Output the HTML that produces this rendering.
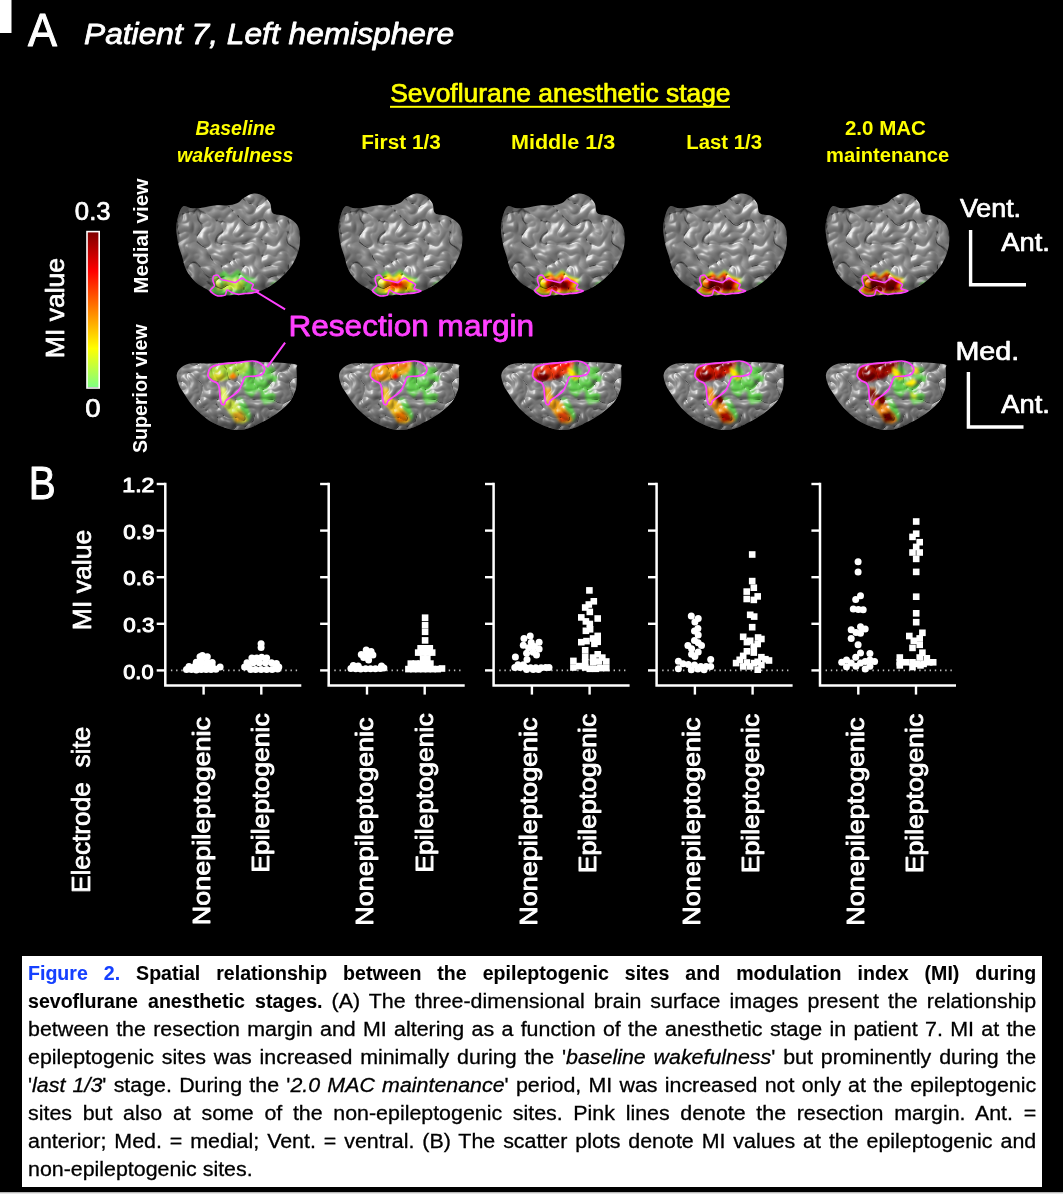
<!DOCTYPE html>
<html lang="en"><head><meta charset="utf-8"><title>Figure 2</title>
<style>
html,body{margin:0;padding:0;background:#000;}
#fig{position:relative;width:1063px;height:1194px;background:#000;overflow:hidden;font-family:"Liberation Sans", sans-serif;}
#fig svg{position:absolute;left:0;top:0;}
svg text{font-family:"Liberation Sans", sans-serif;}

#cap{position:absolute;left:22.2px;top:956px;width:1020.3px;height:231.4px;background:#fff;}
#cap div{position:absolute;left:6.1px;width:943.1px;transform:scaleX(1.069);transform-origin:0 0;height:28px;line-height:28px;font-size:20px;color:#000;-webkit-text-stroke-width:0.3px;white-space:nowrap;text-align:justify;text-align-last:justify;}
#cap b{-webkit-text-stroke-width:0.1px;}
#cap b.f{color:#1540ff;}
#cap div.l1{width:1030.9px;transform:scaleX(0.978);}
#cap b.ib{display:inline-block;transform:scaleX(0.915);transform-origin:0 50%;white-space:pre;word-spacing:4.9px;margin-right:-25.6px;}

</style></head><body>
<div id="fig">
<svg width="1063" height="1194" viewBox="0 0 1063 1194">
<defs>
<linearGradient id="cbar" x1="0" y1="0" x2="0" y2="1">
<stop offset="0" stop-color="#800000"/><stop offset="0.25" stop-color="#ff0000"/><stop offset="0.5" stop-color="#ff8000"/><stop offset="0.75" stop-color="#ffff00"/><stop offset="1" stop-color="#80ff80"/>
</linearGradient>

<filter id="tex" x="-5%" y="-5%" width="110%" height="110%" color-interpolation-filters="sRGB">
 <feTurbulence type="turbulence" baseFrequency="0.045" numOctaves="2" seed="7" result="n"/>
 <feGaussianBlur in="n" stdDeviation="0.6" result="nb"/>
 <feDiffuseLighting in="nb" surfaceScale="3.0" diffuseConstant="1" lighting-color="#989898" result="d"><feDistantLight azimuth="225" elevation="64"/></feDiffuseLighting>
 <feSpecularLighting in="nb" surfaceScale="3.0" specularConstant="0.36" specularExponent="55" lighting-color="#ffffff" result="s"><feDistantLight azimuth="225" elevation="50"/></feSpecularLighting>
 <feComposite in="d" in2="s" operator="arithmetic" k1="0" k2="1" k3="1" k4="0" result="l"/>
 <feColorMatrix in="nb" type="matrix" values="0 0 0 7 0.38  0 0 0 7 0.38  0 0 0 7 0.38  0 0 0 0 1" result="h"/>
 <feBlend in="l" in2="h" mode="multiply" result="m"/>
 <feComposite in="m" in2="SourceAlpha" operator="in"/>
</filter>
<filter id="tex2" x="-5%" y="-5%" width="110%" height="110%" color-interpolation-filters="sRGB">
 <feTurbulence type="turbulence" baseFrequency="0.055" numOctaves="2" seed="11" result="n"/>
 <feGaussianBlur in="n" stdDeviation="0.6" result="nb"/>
 <feDiffuseLighting in="nb" surfaceScale="2.8" diffuseConstant="1" lighting-color="#969696" result="d"><feDistantLight azimuth="235" elevation="64"/></feDiffuseLighting>
 <feSpecularLighting in="nb" surfaceScale="2.8" specularConstant="0.34" specularExponent="55" lighting-color="#ffffff" result="s"><feDistantLight azimuth="235" elevation="50"/></feSpecularLighting>
 <feComposite in="d" in2="s" operator="arithmetic" k1="0" k2="1" k3="1" k4="0" result="l"/>
 <feColorMatrix in="nb" type="matrix" values="0 0 0 8 0.48  0 0 0 8 0.48  0 0 0 8 0.48  0 0 0 0 1" result="h"/>
 <feBlend in="l" in2="h" mode="multiply" result="m"/>
 <feComposite in="m" in2="SourceAlpha" operator="in"/>
</filter>
<filter id="bl1"><feGaussianBlur stdDeviation="1.1"/></filter>
<filter id="bl2"><feGaussianBlur stdDeviation="2.2"/></filter>
<radialGradient id="shM" cx="0.52" cy="0.42" r="0.62"><stop offset="0.6" stop-color="#000" stop-opacity="0"/><stop offset="1" stop-color="#000" stop-opacity="0.4"/></radialGradient>
<radialGradient id="shS" cx="0.5" cy="0.15" r="0.85"><stop offset="0.6" stop-color="#000" stop-opacity="0"/><stop offset="1" stop-color="#000" stop-opacity="0.45"/></radialGradient>
<clipPath id="cM"><path d="M183.3 206.2C181.5 207.1 180.3 209.7 179.1 213.2C177.9 216.7 176.4 222.2 176.3 227.3C176.2 232.5 177.5 239.6 178.4 244.3C179.3 249.0 180.6 251.3 181.9 255.6C183.2 259.8 183.8 265.2 186.2 269.7C188.5 274.1 192.5 279.1 196.0 282.4C199.6 285.7 204.7 287.7 207.3 289.4C209.9 291.1 209.9 291.5 211.6 292.5C213.2 293.6 214.6 295.3 217.2 295.8C219.8 296.2 223.6 295.6 227.1 295.3C230.6 295.1 234.1 294.9 238.4 294.5C242.6 294.1 248.5 293.8 252.5 293.1C256.5 292.4 258.8 291.7 262.4 290.1C265.9 288.6 270.1 286.2 273.6 283.8C277.2 281.3 280.4 278.6 283.5 275.3C286.7 272.0 290.1 268.5 292.7 264.0C295.3 259.5 297.9 253.7 299.0 248.5C300.2 243.3 300.3 237.2 299.8 233.0C299.2 228.7 298.0 225.9 295.5 223.1C293.1 220.3 288.7 217.7 284.9 216.0C281.2 214.4 275.4 215.3 272.9 213.2C270.5 211.1 271.7 206.2 270.1 203.3C268.6 200.5 266.5 197.9 263.8 196.3C261.1 194.6 257.2 193.2 253.9 193.5C250.6 193.7 246.8 196.1 244.0 197.7C241.2 199.3 239.8 202.0 237.0 203.3C234.1 204.6 230.8 205.1 227.1 205.5C223.3 205.8 218.9 205.1 214.4 205.5C209.9 205.9 204.3 207.5 200.3 207.9C196.3 208.3 193.2 208.1 190.4 207.9C187.6 207.6 185.2 205.3 183.3 206.2Z"/></clipPath>
<clipPath id="cS"><path d="M190.4 363.4C185.3 364.1 183.5 365.7 181.2 367.6C178.9 369.6 177.1 372.0 176.7 375.0C176.4 377.9 178.1 382.6 179.1 385.3C180.1 388.0 180.8 388.3 182.6 391.2C184.5 394.1 187.5 399.2 190.4 402.9C193.3 406.6 196.7 410.2 200.3 413.4C203.8 416.5 207.6 419.7 211.6 422.0C215.5 424.3 220.1 425.9 223.8 427.2C227.6 428.5 230.7 429.5 234.1 429.9C237.6 430.2 241.1 430.1 244.4 429.4C247.7 428.8 250.9 427.4 253.9 426.2C256.9 425.0 258.4 424.2 262.2 422.1C266.1 420.0 272.5 416.5 276.9 413.4C281.3 410.2 285.9 406.3 288.7 403.1C291.6 399.8 292.8 396.7 294.1 393.7C295.4 390.8 296.1 389.4 296.5 385.3C296.9 381.2 296.9 372.6 296.5 369.0C296.1 365.5 299.6 365.3 294.1 364.1C288.7 362.9 273.5 362.2 263.8 361.9C254.0 361.5 244.3 361.9 235.6 362.1C226.9 362.4 219.1 363.2 211.6 363.4C204.0 363.6 195.5 362.7 190.4 363.4Z"/></clipPath>
<g id="brM"><path d="M183.3 206.2C181.5 207.1 180.3 209.7 179.1 213.2C177.9 216.7 176.4 222.2 176.3 227.3C176.2 232.5 177.5 239.6 178.4 244.3C179.3 249.0 180.6 251.3 181.9 255.6C183.2 259.8 183.8 265.2 186.2 269.7C188.5 274.1 192.5 279.1 196.0 282.4C199.6 285.7 204.7 287.7 207.3 289.4C209.9 291.1 209.9 291.5 211.6 292.5C213.2 293.6 214.6 295.3 217.2 295.8C219.8 296.2 223.6 295.6 227.1 295.3C230.6 295.1 234.1 294.9 238.4 294.5C242.6 294.1 248.5 293.8 252.5 293.1C256.5 292.4 258.8 291.7 262.4 290.1C265.9 288.6 270.1 286.2 273.6 283.8C277.2 281.3 280.4 278.6 283.5 275.3C286.7 272.0 290.1 268.5 292.7 264.0C295.3 259.5 297.9 253.7 299.0 248.5C300.2 243.3 300.3 237.2 299.8 233.0C299.2 228.7 298.0 225.9 295.5 223.1C293.1 220.3 288.7 217.7 284.9 216.0C281.2 214.4 275.4 215.3 272.9 213.2C270.5 211.1 271.7 206.2 270.1 203.3C268.6 200.5 266.5 197.9 263.8 196.3C261.1 194.6 257.2 193.2 253.9 193.5C250.6 193.7 246.8 196.1 244.0 197.7C241.2 199.3 239.8 202.0 237.0 203.3C234.1 204.6 230.8 205.1 227.1 205.5C223.3 205.8 218.9 205.1 214.4 205.5C209.9 205.9 204.3 207.5 200.3 207.9C196.3 208.3 193.2 208.1 190.4 207.9C187.6 207.6 185.2 205.3 183.3 206.2Z" fill="#888" filter="url(#tex)"/><path d="M183.3 206.2C181.5 207.1 180.3 209.7 179.1 213.2C177.9 216.7 176.4 222.2 176.3 227.3C176.2 232.5 177.5 239.6 178.4 244.3C179.3 249.0 180.6 251.3 181.9 255.6C183.2 259.8 183.8 265.2 186.2 269.7C188.5 274.1 192.5 279.1 196.0 282.4C199.6 285.7 204.7 287.7 207.3 289.4C209.9 291.1 209.9 291.5 211.6 292.5C213.2 293.6 214.6 295.3 217.2 295.8C219.8 296.2 223.6 295.6 227.1 295.3C230.6 295.1 234.1 294.9 238.4 294.5C242.6 294.1 248.5 293.8 252.5 293.1C256.5 292.4 258.8 291.7 262.4 290.1C265.9 288.6 270.1 286.2 273.6 283.8C277.2 281.3 280.4 278.6 283.5 275.3C286.7 272.0 290.1 268.5 292.7 264.0C295.3 259.5 297.9 253.7 299.0 248.5C300.2 243.3 300.3 237.2 299.8 233.0C299.2 228.7 298.0 225.9 295.5 223.1C293.1 220.3 288.7 217.7 284.9 216.0C281.2 214.4 275.4 215.3 272.9 213.2C270.5 211.1 271.7 206.2 270.1 203.3C268.6 200.5 266.5 197.9 263.8 196.3C261.1 194.6 257.2 193.2 253.9 193.5C250.6 193.7 246.8 196.1 244.0 197.7C241.2 199.3 239.8 202.0 237.0 203.3C234.1 204.6 230.8 205.1 227.1 205.5C223.3 205.8 218.9 205.1 214.4 205.5C209.9 205.9 204.3 207.5 200.3 207.9C196.3 208.3 193.2 208.1 190.4 207.9C187.6 207.6 185.2 205.3 183.3 206.2Z" fill="url(#shM)"/></g>
<g id="brS"><path d="M190.4 363.4C185.3 364.1 183.5 365.7 181.2 367.6C178.9 369.6 177.1 372.0 176.7 375.0C176.4 377.9 178.1 382.6 179.1 385.3C180.1 388.0 180.8 388.3 182.6 391.2C184.5 394.1 187.5 399.2 190.4 402.9C193.3 406.6 196.7 410.2 200.3 413.4C203.8 416.5 207.6 419.7 211.6 422.0C215.5 424.3 220.1 425.9 223.8 427.2C227.6 428.5 230.7 429.5 234.1 429.9C237.6 430.2 241.1 430.1 244.4 429.4C247.7 428.8 250.9 427.4 253.9 426.2C256.9 425.0 258.4 424.2 262.2 422.1C266.1 420.0 272.5 416.5 276.9 413.4C281.3 410.2 285.9 406.3 288.7 403.1C291.6 399.8 292.8 396.7 294.1 393.7C295.4 390.8 296.1 389.4 296.5 385.3C296.9 381.2 296.9 372.6 296.5 369.0C296.1 365.5 299.6 365.3 294.1 364.1C288.7 362.9 273.5 362.2 263.8 361.9C254.0 361.5 244.3 361.9 235.6 362.1C226.9 362.4 219.1 363.2 211.6 363.4C204.0 363.6 195.5 362.7 190.4 363.4Z" fill="#888" filter="url(#tex2)"/><path d="M190.4 363.4C185.3 364.1 183.5 365.7 181.2 367.6C178.9 369.6 177.1 372.0 176.7 375.0C176.4 377.9 178.1 382.6 179.1 385.3C180.1 388.0 180.8 388.3 182.6 391.2C184.5 394.1 187.5 399.2 190.4 402.9C193.3 406.6 196.7 410.2 200.3 413.4C203.8 416.5 207.6 419.7 211.6 422.0C215.5 424.3 220.1 425.9 223.8 427.2C227.6 428.5 230.7 429.5 234.1 429.9C237.6 430.2 241.1 430.1 244.4 429.4C247.7 428.8 250.9 427.4 253.9 426.2C256.9 425.0 258.4 424.2 262.2 422.1C266.1 420.0 272.5 416.5 276.9 413.4C281.3 410.2 285.9 406.3 288.7 403.1C291.6 399.8 292.8 396.7 294.1 393.7C295.4 390.8 296.1 389.4 296.5 385.3C296.9 381.2 296.9 372.6 296.5 369.0C296.1 365.5 299.6 365.3 294.1 364.1C288.7 362.9 273.5 362.2 263.8 361.9C254.0 361.5 244.3 361.9 235.6 362.1C226.9 362.4 219.1 363.2 211.6 363.4C204.0 363.6 195.5 362.7 190.4 363.4Z" fill="url(#shS)"/></g>
</defs>
<rect x="0" y="0" width="1063" height="1194" fill="#000"/>
<rect x="0" y="0" width="11.5" height="33" fill="#fff"/>
<rect x="0" y="1192.2" width="1063" height="1.8" fill="#e4e4e4"/>
<g transform="translate(0.0,0)">
<use href="#brM"/>
<use href="#brS"/>
<g clip-path="url(#cM)" style="mix-blend-mode:overlay"><g filter="url(#bl1)">
<path d="M213.0 276.4L219.8 274.0L224.3 270.6L229.9 276.0L237.8 269.5L244.6 275.3L250.3 277.4L256.1 278.5L253.9 284.4L251.6 287.7L259.1 290.7L246.9 293.6L236.7 294.2L225.4 294.7L214.1 294.7L209.4 291.4L212.8 285.5Z" fill="#62cc50" opacity="1"/>
<path d="M269.5 284.6L276.2 280.7L277.6 281.9L272.3 285.0Z" fill="#62cc50"/>
<path d="M223.2 280.9L226.6 279.6L228.8 277.9L231.6 280.6L235.6 277.4L239.0 280.3L241.8 281.3L244.7 281.9L243.6 284.8L242.5 286.5L246.2 288.0L240.1 289.4L235.0 289.7L229.4 290.0L223.7 290.0L221.4 288.3L223.1 285.4Z" fill="#c4e83c" opacity="1"/>
<path d="M214.1 278.1L218.1 277.4L221.5 288.9L217.5 290.9Z" fill="#e4f060"/>
</g></g>
<g clip-path="url(#cS)" style="mix-blend-mode:overlay"><g filter="url(#bl1)">
<path d="M235.6 368.3L249.7 364.1L257.4 371.2L255.3 378.9L244.0 377.5L238.4 374.0Z" fill="#62cc50" opacity="1"/>
<path d="M241.9 377.5L255.3 376.1L263.8 377.5L270.8 385.3L266.6 392.3L256.7 391.6L251.8 398.0L245.1 392.3Z" fill="#62cc50" opacity="1"/>
<path d="M263.1 367.6L270.1 366.7L275.3 368.3L272.8 375.1L278.4 376.2L275.3 383.2L268.7 380.3L263.8 376.8Z" fill="#62cc50" opacity="1"/>
<path d="M261.0 390.2L270.1 392.0L275.6 394.0L274.8 401.4L264.1 404.7L260.4 398.3Z" fill="#62cc50" opacity="1"/>
<path d="M236.3 397.3L241.9 398.0L247.5 406.4L251.4 416.3L248.5 422.5L244.0 416.9L239.5 406.7Z" fill="#62cc50" opacity="1"/>
<path d="M211.6 366.9L221.4 364.1L235.6 362.7L249.7 361.3L248.3 368.3L244.0 374.7L241.2 374.0L232.7 378.2L224.3 380.3L214.4 381.0L208.0 376.1L208.7 371.2Z" fill="#a8d83c" opacity="1"/>
<path d="M220.3 387.0L226.0 387.8L227.8 396.6L231.3 399.4L237.7 402.2L240.5 409.3L245.4 414.2L248.3 420.6L243.3 423.7L235.6 423.1L231.0 415.6L226.8 409.3L222.6 404.3L220.3 396.6Z" fill="#c8e040" opacity="1"/>
<path d="M210.9 377.5L217.5 369.5L225.0 375.7L223.1 380.8L214.7 381.0Z" fill="#d8d828" opacity="1"/>
<path d="M228.5 377.1L233.4 371.9L237.0 377.1L232.7 379.6Z" fill="#ff8000" opacity="1"/>
<path d="M232.4 413.2L241.2 411.8L245.7 420.6L235.6 422.8Z" fill="#f0b020" opacity="1"/>
<path d="M221.2 387.8L225.7 388.4L227.1 397.3L222.9 403.3L220.6 396.6Z" fill="#e4f060" opacity="1"/>
</g></g>
<path d="M213.7 276.0C214.3 275.4 217.0 274.9 217.9 275.3C218.8 275.7 220.2 278.9 221.4 279.5C222.7 280.2 226.9 280.6 228.5 281.0C230.1 281.3 234.0 282.7 235.6 282.4C237.1 282.0 240.6 278.3 241.9 278.1C243.2 278.0 245.5 280.2 246.8 281.0C248.2 281.7 252.6 283.6 253.2 284.5C253.8 285.4 251.1 288.0 251.8 288.7C252.4 289.5 258.8 290.3 258.8 290.8C258.9 291.3 254.2 292.6 252.5 292.9C250.8 293.3 245.7 293.5 244.0 293.6C242.4 293.8 239.9 294.5 238.4 294.4C236.9 294.2 232.6 292.7 231.3 292.2C230.0 291.7 227.8 289.8 227.1 290.1C226.3 290.5 226.1 294.4 225.0 295.1C223.8 295.7 218.9 296.3 217.2 295.8C215.5 295.3 210.5 292.0 210.2 290.8C209.8 289.7 214.1 287.0 214.4 285.9C214.7 284.7 213.1 282.1 213.0 281.0C212.9 279.8 213.1 276.7 213.7 276.0Z" fill="none" stroke="#ff40ff" stroke-width="1.6" stroke-linejoin="round"/>
<path d="M211.6 366.9C213.7 365.8 217.4 364.8 221.4 364.1C225.4 363.4 230.4 363.2 235.6 362.7C240.7 362.2 248.5 361.0 252.5 361.0C256.5 361.0 257.5 361.5 259.5 362.7C261.5 363.9 264.0 366.5 264.5 368.3C264.9 370.2 263.9 372.7 262.4 374.0C260.8 375.3 258.1 375.6 255.3 376.1C252.5 376.6 247.5 375.8 245.4 376.8C243.3 377.9 243.8 380.1 242.6 382.5C241.4 384.8 240.3 388.6 238.4 390.9C236.5 393.3 233.4 394.9 231.3 396.6C229.2 398.2 226.9 399.5 225.7 400.8C224.5 402.1 225.0 403.9 224.3 404.3C223.6 404.8 222.1 404.9 221.4 403.6C220.7 402.3 220.4 399.2 220.0 396.6C219.7 394.0 219.8 390.3 219.3 388.1C218.9 385.9 218.5 384.5 217.2 383.2C215.9 381.9 213.1 381.5 211.6 380.3C210.0 379.2 208.5 377.6 208.0 376.1C207.6 374.6 208.2 372.7 208.7 371.2C209.3 369.6 209.4 368.1 211.6 366.9Z" fill="none" stroke="#ff40ff" stroke-width="1.7" stroke-linejoin="round"/>
</g>
<g transform="translate(162.3,0)">
<use href="#brM"/>
<use href="#brS"/>
<g clip-path="url(#cM)" style="mix-blend-mode:overlay"><g filter="url(#bl1)">
<path d="M213.0 276.4L219.8 274.0L224.3 270.6L229.9 276.0L237.8 269.5L244.6 275.3L250.3 277.4L256.1 278.5L253.9 284.4L251.6 287.7L259.1 290.7L246.9 293.6L236.7 294.2L225.4 294.7L214.1 294.7L209.4 291.4L212.8 285.5Z" fill="#62cc50" opacity="1"/>
<path d="M269.5 284.6L276.2 280.7L277.6 281.9L272.3 285.0Z" fill="#62cc50"/>
<path d="M217.4 278.1L222.8 276.1L226.4 273.4L231.0 277.7L237.3 272.5L242.7 277.2L247.2 278.8L251.9 279.7L250.1 284.4L248.3 287.1L254.3 289.5L244.5 291.8L236.4 292.3L227.3 292.7L218.3 292.7L214.5 290.0L217.2 285.3Z" fill="#fff000" opacity="1"/>
<path d="M222.9 280.1L226.6 278.7L229.1 276.9L232.2 279.9L236.6 276.3L240.3 279.5L243.4 280.6L246.6 281.2L245.4 284.5L244.1 286.3L248.2 287.9L241.5 289.5L236.0 289.9L229.7 290.2L223.5 290.2L220.9 288.3L222.8 285.1Z" fill="#ff8000" opacity="1"/>
<path d="M228.4 282.1L230.4 281.4L231.8 280.4L233.5 282.0L235.9 280.0L237.9 281.8L239.6 282.4L241.4 282.7L240.7 284.5L240.0 285.5L242.2 286.4L238.6 287.3L235.5 287.5L232.1 287.6L228.8 287.6L227.3 286.6L228.3 284.8Z" fill="#ff0800" opacity="1"/>
<path d="M232.8 283.8L233.5 283.5L233.9 283.2L234.5 283.7L235.3 283.1L236.0 283.7L236.5 283.9L237.1 284.0L236.9 284.6L236.7 284.9L237.4 285.2L236.2 285.5L235.2 285.5L234.1 285.6L232.9 285.6L232.5 285.3L232.8 284.7Z" fill="#780000" opacity="1"/>
<path d="M214.1 278.1L218.1 277.4L221.5 288.9L217.5 290.9Z" fill="#e4f060"/>
</g></g>
<g clip-path="url(#cS)" style="mix-blend-mode:overlay"><g filter="url(#bl1)">
<path d="M235.6 368.3L249.7 364.1L257.4 371.2L255.3 378.9L244.0 377.5L238.4 374.0Z" fill="#62cc50" opacity="1"/>
<path d="M241.9 377.5L255.3 376.1L263.8 377.5L270.8 385.3L266.6 392.3L256.7 391.6L251.8 398.0L245.1 392.3Z" fill="#62cc50" opacity="1"/>
<path d="M263.1 367.6L270.1 366.7L275.3 368.3L272.8 375.1L278.4 376.2L275.3 383.2L268.7 380.3L263.8 376.8Z" fill="#62cc50" opacity="1"/>
<path d="M261.0 390.2L270.1 392.0L275.6 394.0L274.8 401.4L264.1 404.7L260.4 398.3Z" fill="#62cc50" opacity="1"/>
<path d="M236.3 397.3L241.9 398.0L247.5 406.4L251.4 416.3L248.5 422.5L244.0 416.9L239.5 406.7Z" fill="#62cc50" opacity="1"/>
<path d="M211.6 366.9L221.4 364.1L235.6 362.7L249.7 361.3L248.3 368.3L244.0 374.7L241.2 374.0L232.7 378.2L224.3 380.3L214.4 381.0L208.0 376.1L208.7 371.2Z" fill="#f0a818" opacity="1"/>
<path d="M220.3 387.0L226.0 387.8L227.8 396.6L231.3 399.4L237.7 402.2L240.5 409.3L245.4 414.2L248.3 420.6L243.3 423.7L235.6 423.1L231.0 415.6L226.8 409.3L222.6 404.3L220.3 396.6Z" fill="#f0c020" opacity="1"/>
<path d="M210.9 377.5L217.5 369.5L225.0 375.7L223.1 380.8L214.7 381.0Z" fill="#f09010" opacity="1"/>
<path d="M220.7 365.2L231.3 363.5L248.3 362.4L244.7 368.1L238.4 366.7L232.7 369.8L225.7 367.2Z" fill="#f07010" opacity="1"/>
<path d="M228.5 377.1L233.4 371.9L237.0 377.1L232.7 379.6Z" fill="#ff0800" opacity="1"/>
<path d="M232.4 413.2L241.2 411.8L245.7 420.6L235.6 422.8Z" fill="#ff8000" opacity="1"/>
</g></g>
<path d="M213.7 276.0C214.3 275.4 217.0 274.9 217.9 275.3C218.8 275.7 220.2 278.9 221.4 279.5C222.7 280.2 226.9 280.6 228.5 281.0C230.1 281.3 234.0 282.7 235.6 282.4C237.1 282.0 240.6 278.3 241.9 278.1C243.2 278.0 245.5 280.2 246.8 281.0C248.2 281.7 252.6 283.6 253.2 284.5C253.8 285.4 251.1 288.0 251.8 288.7C252.4 289.5 258.8 290.3 258.8 290.8C258.9 291.3 254.2 292.6 252.5 292.9C250.8 293.3 245.7 293.5 244.0 293.6C242.4 293.8 239.9 294.5 238.4 294.4C236.9 294.2 232.6 292.7 231.3 292.2C230.0 291.7 227.8 289.8 227.1 290.1C226.3 290.5 226.1 294.4 225.0 295.1C223.8 295.7 218.9 296.3 217.2 295.8C215.5 295.3 210.5 292.0 210.2 290.8C209.8 289.7 214.1 287.0 214.4 285.9C214.7 284.7 213.1 282.1 213.0 281.0C212.9 279.8 213.1 276.7 213.7 276.0Z" fill="none" stroke="#ff40ff" stroke-width="1.6" stroke-linejoin="round"/>
<path d="M211.6 366.9C213.7 365.8 217.4 364.8 221.4 364.1C225.4 363.4 230.4 363.2 235.6 362.7C240.7 362.2 248.5 361.0 252.5 361.0C256.5 361.0 257.5 361.5 259.5 362.7C261.5 363.9 264.0 366.5 264.5 368.3C264.9 370.2 263.9 372.7 262.4 374.0C260.8 375.3 258.1 375.6 255.3 376.1C252.5 376.6 247.5 375.8 245.4 376.8C243.3 377.9 243.8 380.1 242.6 382.5C241.4 384.8 240.3 388.6 238.4 390.9C236.5 393.3 233.4 394.9 231.3 396.6C229.2 398.2 226.9 399.5 225.7 400.8C224.5 402.1 225.0 403.9 224.3 404.3C223.6 404.8 222.1 404.9 221.4 403.6C220.7 402.3 220.4 399.2 220.0 396.6C219.7 394.0 219.8 390.3 219.3 388.1C218.9 385.9 218.5 384.5 217.2 383.2C215.9 381.9 213.1 381.5 211.6 380.3C210.0 379.2 208.5 377.6 208.0 376.1C207.6 374.6 208.2 372.7 208.7 371.2C209.3 369.6 209.4 368.1 211.6 366.9Z" fill="none" stroke="#ff40ff" stroke-width="1.7" stroke-linejoin="round"/>
</g>
<g transform="translate(324.6,0)">
<use href="#brM"/>
<use href="#brS"/>
<g clip-path="url(#cM)" style="mix-blend-mode:overlay"><g filter="url(#bl1)">
<path d="M213.0 276.4L219.8 274.0L224.3 270.6L229.9 276.0L237.8 269.5L244.6 275.3L250.3 277.4L256.1 278.5L253.9 284.4L251.6 287.7L259.1 290.7L246.9 293.6L236.7 294.2L225.4 294.7L214.1 294.7L209.4 291.4L212.8 285.5Z" fill="#62cc50" opacity="1"/>
<path d="M269.5 284.6L276.2 280.7L277.6 281.9L272.3 285.0Z" fill="#62cc50"/>
<path d="M215.2 277.3L221.3 275.0L225.4 272.0L230.4 276.9L237.6 271.0L243.7 276.2L248.7 278.1L254.0 279.1L252.0 284.4L250.0 287.4L256.7 290.1L245.7 292.7L236.5 293.2L226.4 293.7L216.2 293.7L212.0 290.7L215.0 285.4Z" fill="#fff000" opacity="1"/>
<path d="M217.8 278.2L223.1 276.3L226.7 273.7L231.1 277.9L237.2 272.8L242.5 277.4L246.9 278.9L251.5 279.8L249.7 284.4L248.0 287.0L253.8 289.3L244.3 291.6L236.3 292.1L227.5 292.5L218.7 292.5L215.0 289.9L217.7 285.3Z" fill="#ff8000" opacity="1"/>
<path d="M221.4 279.5L225.6 278.0L228.4 275.9L231.9 279.3L236.8 275.2L241.0 278.8L244.5 280.1L248.1 280.8L246.7 284.4L245.3 286.5L249.9 288.4L242.4 290.2L236.1 290.5L229.1 290.9L222.1 290.9L219.1 288.8L221.2 285.1Z" fill="#ff0800" opacity="1"/>
<path d="M225.8 281.2L228.6 280.1L230.5 278.7L232.9 281.0L236.2 278.2L239.0 280.7L241.4 281.5L243.9 282.0L242.9 284.5L242.0 285.9L245.1 287.1L240.0 288.4L235.7 288.6L231.0 288.8L226.2 288.8L224.3 287.4L225.7 285.0Z" fill="#780000" opacity="1"/>
<path d="M214.1 278.1L218.1 277.4L221.5 288.9L217.5 290.9Z" fill="#fff000"/>
</g></g>
<g clip-path="url(#cS)" style="mix-blend-mode:overlay"><g filter="url(#bl1)">
<path d="M235.6 368.3L249.7 364.1L257.4 371.2L255.3 378.9L244.0 377.5L238.4 374.0Z" fill="#62cc50" opacity="1"/>
<path d="M241.9 377.5L255.3 376.1L263.8 377.5L270.8 385.3L266.6 392.3L256.7 391.6L251.8 398.0L245.1 392.3Z" fill="#62cc50" opacity="1"/>
<path d="M263.1 367.6L270.1 366.7L275.3 368.3L272.8 375.1L278.4 376.2L275.3 383.2L268.7 380.3L263.8 376.8Z" fill="#62cc50" opacity="1"/>
<path d="M261.0 390.2L270.1 392.0L275.6 394.0L274.8 401.4L264.1 404.7L260.4 398.3Z" fill="#62cc50" opacity="1"/>
<path d="M236.3 397.3L241.9 398.0L247.5 406.4L251.4 416.3L248.5 422.5L244.0 416.9L239.5 406.7Z" fill="#62cc50" opacity="1"/>
<path d="M211.6 366.9L221.4 364.1L235.6 362.7L249.7 361.3L248.3 368.3L244.0 374.7L241.2 374.0L232.7 378.2L224.3 380.3L214.4 381.0L208.0 376.1L208.7 371.2Z" fill="#f03810" opacity="1"/>
<path d="M220.3 387.0L226.0 387.8L227.8 396.6L231.3 399.4L237.7 402.2L240.5 409.3L245.4 414.2L248.3 420.6L243.3 423.7L235.6 423.1L231.0 415.6L226.8 409.3L222.6 404.3L220.3 396.6Z" fill="#f0a018" opacity="1"/>
<path d="M210.9 377.5L217.5 369.5L225.0 375.7L223.1 380.8L214.7 381.0Z" fill="#780000" opacity="1"/>
<path d="M220.7 365.2L231.3 363.5L248.3 362.4L244.7 368.1L238.4 366.7L232.7 369.8L225.7 367.2Z" fill="#ff0800" opacity="1"/>
<path d="M228.5 377.1L233.4 371.9L237.0 377.1L232.7 379.6Z" fill="#780000" opacity="1"/>
<path d="M232.4 413.2L241.2 411.8L245.7 420.6L235.6 422.8Z" fill="#f04810" opacity="1"/>
<path d="M243.3 366.9L249.7 371.2L255.3 378.2L249.7 380.3L244.0 374.0Z" fill="#fff000" opacity="1"/>
</g></g>
<path d="M213.7 276.0C214.3 275.4 217.0 274.9 217.9 275.3C218.8 275.7 220.2 278.9 221.4 279.5C222.7 280.2 226.9 280.6 228.5 281.0C230.1 281.3 234.0 282.7 235.6 282.4C237.1 282.0 240.6 278.3 241.9 278.1C243.2 278.0 245.5 280.2 246.8 281.0C248.2 281.7 252.6 283.6 253.2 284.5C253.8 285.4 251.1 288.0 251.8 288.7C252.4 289.5 258.8 290.3 258.8 290.8C258.9 291.3 254.2 292.6 252.5 292.9C250.8 293.3 245.7 293.5 244.0 293.6C242.4 293.8 239.9 294.5 238.4 294.4C236.9 294.2 232.6 292.7 231.3 292.2C230.0 291.7 227.8 289.8 227.1 290.1C226.3 290.5 226.1 294.4 225.0 295.1C223.8 295.7 218.9 296.3 217.2 295.8C215.5 295.3 210.5 292.0 210.2 290.8C209.8 289.7 214.1 287.0 214.4 285.9C214.7 284.7 213.1 282.1 213.0 281.0C212.9 279.8 213.1 276.7 213.7 276.0Z" fill="none" stroke="#ff40ff" stroke-width="1.6" stroke-linejoin="round"/>
<path d="M211.6 366.9C213.7 365.8 217.4 364.8 221.4 364.1C225.4 363.4 230.4 363.2 235.6 362.7C240.7 362.2 248.5 361.0 252.5 361.0C256.5 361.0 257.5 361.5 259.5 362.7C261.5 363.9 264.0 366.5 264.5 368.3C264.9 370.2 263.9 372.7 262.4 374.0C260.8 375.3 258.1 375.6 255.3 376.1C252.5 376.6 247.5 375.8 245.4 376.8C243.3 377.9 243.8 380.1 242.6 382.5C241.4 384.8 240.3 388.6 238.4 390.9C236.5 393.3 233.4 394.9 231.3 396.6C229.2 398.2 226.9 399.5 225.7 400.8C224.5 402.1 225.0 403.9 224.3 404.3C223.6 404.8 222.1 404.9 221.4 403.6C220.7 402.3 220.4 399.2 220.0 396.6C219.7 394.0 219.8 390.3 219.3 388.1C218.9 385.9 218.5 384.5 217.2 383.2C215.9 381.9 213.1 381.5 211.6 380.3C210.0 379.2 208.5 377.6 208.0 376.1C207.6 374.6 208.2 372.7 208.7 371.2C209.3 369.6 209.4 368.1 211.6 366.9Z" fill="none" stroke="#ff40ff" stroke-width="1.7" stroke-linejoin="round"/>
</g>
<g transform="translate(486.9,0)">
<use href="#brM"/>
<use href="#brS"/>
<g clip-path="url(#cM)" style="mix-blend-mode:overlay"><g filter="url(#bl1)">
<path d="M213.0 276.4L219.8 274.0L224.3 270.6L229.9 276.0L237.8 269.5L244.6 275.3L250.3 277.4L256.1 278.5L253.9 284.4L251.6 287.7L259.1 290.7L246.9 293.6L236.7 294.2L225.4 294.7L214.1 294.7L209.4 291.4L212.8 285.5Z" fill="#62cc50" opacity="1"/>
<path d="M269.5 284.6L276.2 280.7L277.6 281.9L272.3 285.0Z" fill="#62cc50"/>
<path d="M214.8 277.1L221.0 274.8L225.2 271.7L230.3 276.7L237.6 270.7L243.8 276.1L249.0 277.9L254.4 279.0L252.4 284.4L250.3 287.5L257.1 290.2L245.9 292.9L236.6 293.4L226.2 293.9L215.8 293.9L211.4 290.8L214.6 285.4Z" fill="#fff000" opacity="1"/>
<path d="M216.7 277.8L222.4 275.8L226.1 273.0L230.8 277.5L237.4 272.0L243.0 276.9L247.7 278.6L252.5 279.5L250.7 284.4L248.8 287.2L255.0 289.6L244.9 292.1L236.4 292.5L227.1 293.0L217.7 293.0L213.7 290.2L216.6 285.3Z" fill="#ff8000" opacity="1"/>
<path d="M218.9 278.6L223.9 276.8L227.2 274.4L231.3 278.3L237.1 273.5L242.0 277.8L246.1 279.3L250.4 280.1L248.8 284.4L247.1 286.9L252.6 289.0L243.7 291.2L236.3 291.6L228.0 292.0L219.8 292.0L216.3 289.5L218.8 285.2Z" fill="#ff0800" opacity="1"/>
<path d="M222.3 279.9L226.2 278.4L228.8 276.5L232.1 279.6L236.7 275.8L240.6 279.2L243.9 280.4L247.3 281.0L246.0 284.4L244.6 286.4L249.0 288.1L241.9 289.8L236.0 290.1L229.5 290.5L222.9 290.5L220.2 288.5L222.1 285.1Z" fill="#780000" opacity="1"/>
<path d="M214.1 278.1L218.1 277.4L221.5 288.9L217.5 290.9Z" fill="#ff8000"/>
</g></g>
<g clip-path="url(#cS)" style="mix-blend-mode:overlay"><g filter="url(#bl1)">
<path d="M235.6 368.3L249.7 364.1L257.4 371.2L255.3 378.9L244.0 377.5L238.4 374.0Z" fill="#62cc50" opacity="1"/>
<path d="M241.9 377.5L255.3 376.1L263.8 377.5L270.8 385.3L266.6 392.3L256.7 391.6L251.8 398.0L245.1 392.3Z" fill="#62cc50" opacity="1"/>
<path d="M263.1 367.6L270.1 366.7L275.3 368.3L272.8 375.1L278.4 376.2L275.3 383.2L268.7 380.3L263.8 376.8Z" fill="#62cc50" opacity="1"/>
<path d="M261.0 390.2L270.1 392.0L275.6 394.0L274.8 401.4L264.1 404.7L260.4 398.3Z" fill="#62cc50" opacity="1"/>
<path d="M236.3 397.3L241.9 398.0L247.5 406.4L251.4 416.3L248.5 422.5L244.0 416.9L239.5 406.7Z" fill="#62cc50" opacity="1"/>
<path d="M211.6 366.9L221.4 364.1L235.6 362.7L249.7 361.3L248.3 368.3L244.0 374.7L241.2 374.0L232.7 378.2L224.3 380.3L214.4 381.0L208.0 376.1L208.7 371.2Z" fill="#d01800" opacity="1"/>
<path d="M220.3 387.0L226.0 387.8L227.8 396.6L231.3 399.4L237.7 402.2L240.5 409.3L245.4 414.2L248.3 420.6L243.3 423.7L235.6 423.1L231.0 415.6L226.8 409.3L222.6 404.3L220.3 396.6Z" fill="#f09018" opacity="1"/>
<path d="M210.2 377.7L217.4 368.8L225.7 375.6L223.7 381.2L214.3 381.5Z" fill="#780000" opacity="1"/>
<path d="M220.7 365.2L231.3 363.5L248.3 362.4L244.7 368.1L238.4 366.7L232.7 369.8L225.7 367.2Z" fill="#780000" opacity="1"/>
<path d="M228.5 377.1L233.4 371.9L237.0 377.1L232.7 379.6Z" fill="#780000" opacity="1"/>
<path d="M232.4 413.2L241.2 411.8L245.7 420.6L235.6 422.8Z" fill="#c01000" opacity="1"/>
<path d="M227.1 395.2L235.6 396.6L238.4 403.6L231.3 404.3Z" fill="#780000" opacity="1"/>
<path d="M243.3 366.9L249.7 371.2L255.3 378.2L249.7 380.3L244.0 374.0Z" fill="#fff000" opacity="1"/>
</g></g>
<path d="M213.7 276.0C214.3 275.4 217.0 274.9 217.9 275.3C218.8 275.7 220.2 278.9 221.4 279.5C222.7 280.2 226.9 280.6 228.5 281.0C230.1 281.3 234.0 282.7 235.6 282.4C237.1 282.0 240.6 278.3 241.9 278.1C243.2 278.0 245.5 280.2 246.8 281.0C248.2 281.7 252.6 283.6 253.2 284.5C253.8 285.4 251.1 288.0 251.8 288.7C252.4 289.5 258.8 290.3 258.8 290.8C258.9 291.3 254.2 292.6 252.5 292.9C250.8 293.3 245.7 293.5 244.0 293.6C242.4 293.8 239.9 294.5 238.4 294.4C236.9 294.2 232.6 292.7 231.3 292.2C230.0 291.7 227.8 289.8 227.1 290.1C226.3 290.5 226.1 294.4 225.0 295.1C223.8 295.7 218.9 296.3 217.2 295.8C215.5 295.3 210.5 292.0 210.2 290.8C209.8 289.7 214.1 287.0 214.4 285.9C214.7 284.7 213.1 282.1 213.0 281.0C212.9 279.8 213.1 276.7 213.7 276.0Z" fill="none" stroke="#ff40ff" stroke-width="1.6" stroke-linejoin="round"/>
<path d="M211.6 366.9C213.7 365.8 217.4 364.8 221.4 364.1C225.4 363.4 230.4 363.2 235.6 362.7C240.7 362.2 248.5 361.0 252.5 361.0C256.5 361.0 257.5 361.5 259.5 362.7C261.5 363.9 264.0 366.5 264.5 368.3C264.9 370.2 263.9 372.7 262.4 374.0C260.8 375.3 258.1 375.6 255.3 376.1C252.5 376.6 247.5 375.8 245.4 376.8C243.3 377.9 243.8 380.1 242.6 382.5C241.4 384.8 240.3 388.6 238.4 390.9C236.5 393.3 233.4 394.9 231.3 396.6C229.2 398.2 226.9 399.5 225.7 400.8C224.5 402.1 225.0 403.9 224.3 404.3C223.6 404.8 222.1 404.9 221.4 403.6C220.7 402.3 220.4 399.2 220.0 396.6C219.7 394.0 219.8 390.3 219.3 388.1C218.9 385.9 218.5 384.5 217.2 383.2C215.9 381.9 213.1 381.5 211.6 380.3C210.0 379.2 208.5 377.6 208.0 376.1C207.6 374.6 208.2 372.7 208.7 371.2C209.3 369.6 209.4 368.1 211.6 366.9Z" fill="none" stroke="#ff40ff" stroke-width="1.7" stroke-linejoin="round"/>
</g>
<g transform="translate(649.2,0)">
<use href="#brM"/>
<use href="#brS"/>
<g clip-path="url(#cM)" style="mix-blend-mode:overlay"><g filter="url(#bl1)">
<path d="M213.0 276.4L219.8 274.0L224.3 270.6L229.9 276.0L237.8 269.5L244.6 275.3L250.3 277.4L256.1 278.5L253.9 284.4L251.6 287.7L259.1 290.7L246.9 293.6L236.7 294.2L225.4 294.7L214.1 294.7L209.4 291.4L212.8 285.5Z" fill="#62cc50" opacity="1"/>
<path d="M269.5 284.6L276.2 280.7L277.6 281.9L272.3 285.0Z" fill="#62cc50"/>
<path d="M214.3 276.9L220.7 274.6L224.9 271.4L230.2 276.5L237.7 270.4L244.0 275.9L249.3 277.8L254.9 278.8L252.7 284.4L250.6 287.5L257.6 290.3L246.2 293.1L236.6 293.6L226.0 294.1L215.4 294.1L210.9 290.9L214.1 285.4Z" fill="#fff000" opacity="1"/>
<path d="M215.9 277.5L221.8 275.3L225.7 272.4L230.6 277.1L237.5 271.4L243.4 276.5L248.3 278.3L253.4 279.3L251.4 284.4L249.5 287.3L255.9 289.9L245.3 292.4L236.5 292.9L226.7 293.4L216.8 293.4L212.7 290.5L215.7 285.4Z" fill="#ff8000" opacity="1"/>
<path d="M217.4 278.1L222.8 276.1L226.4 273.4L231.0 277.7L237.3 272.5L242.7 277.2L247.2 278.8L251.9 279.7L250.1 284.4L248.3 287.1L254.3 289.5L244.5 291.8L236.4 292.3L227.3 292.7L218.3 292.7L214.5 290.0L217.2 285.3Z" fill="#ff0800" opacity="1"/>
<path d="M220.0 279.1L224.7 277.4L227.7 275.1L231.6 278.7L236.9 274.3L241.5 278.3L245.4 279.7L249.4 280.4L247.8 284.4L246.3 286.7L251.4 288.7L243.1 290.7L236.2 291.1L228.5 291.5L220.8 291.5L217.6 289.2L219.9 285.2Z" fill="#780000" opacity="1"/>
<path d="M214.1 278.1L218.1 277.4L221.5 288.9L217.5 290.9Z" fill="#ff8000"/>
</g></g>
<g clip-path="url(#cS)" style="mix-blend-mode:overlay"><g filter="url(#bl1)">
<path d="M235.6 368.3L249.7 364.1L257.4 371.2L255.3 378.9L244.0 377.5L238.4 374.0Z" fill="#62cc50" opacity="1"/>
<path d="M241.9 377.5L255.3 376.1L263.8 377.5L270.8 385.3L266.6 392.3L256.7 391.6L251.8 398.0L245.1 392.3Z" fill="#62cc50" opacity="1"/>
<path d="M263.1 367.6L270.1 366.7L275.3 368.3L272.8 375.1L278.4 376.2L275.3 383.2L268.7 380.3L263.8 376.8Z" fill="#62cc50" opacity="1"/>
<path d="M261.0 390.2L270.1 392.0L275.6 394.0L274.8 401.4L264.1 404.7L260.4 398.3Z" fill="#62cc50" opacity="1"/>
<path d="M236.3 397.3L241.9 398.0L247.5 406.4L251.4 416.3L248.5 422.5L244.0 416.9L239.5 406.7Z" fill="#62cc50" opacity="1"/>
<path d="M211.6 366.9L221.4 364.1L235.6 362.7L249.7 361.3L248.3 368.3L244.0 374.7L241.2 374.0L232.7 378.2L224.3 380.3L214.4 381.0L208.0 376.1L208.7 371.2Z" fill="#a80800" opacity="1"/>
<path d="M220.3 387.0L226.0 387.8L227.8 396.6L231.3 399.4L237.7 402.2L240.5 409.3L245.4 414.2L248.3 420.6L243.3 423.7L235.6 423.1L231.0 415.6L226.8 409.3L222.6 404.3L220.3 396.6Z" fill="#f08818" opacity="1"/>
<path d="M209.4 377.8L217.4 368.1L226.4 375.6L224.2 381.7L214.0 382.0Z" fill="#780000" opacity="1"/>
<path d="M219.4 365.2L231.0 363.3L249.7 362.1L245.8 368.3L238.8 366.8L232.6 370.2L224.8 367.4Z" fill="#780000" opacity="1"/>
<path d="M228.5 377.1L233.4 371.9L237.0 377.1L232.7 379.6Z" fill="#780000" opacity="1"/>
<path d="M232.4 413.2L241.2 411.8L245.7 420.6L235.6 422.8Z" fill="#780000" opacity="1"/>
<path d="M225.7 393.7L235.6 395.9L239.1 404.3L230.6 405.0Z" fill="#780000" opacity="1"/>
<path d="M220.7 387.8L225.7 388.4L227.1 397.3L222.9 403.6L220.3 396.6Z" fill="#780000" opacity="1"/>
<path d="M243.3 366.9L249.7 371.2L255.3 378.2L249.7 380.3L244.0 374.0Z" fill="#fff000" opacity="1"/>
<path d="M262.4 368.3L268.0 366.9L270.1 373.3L265.2 374.0Z" fill="#f0d020" opacity="1"/>
<path d="M255.3 383.9L263.8 378.2L268.0 382.5L262.4 386.7Z" fill="#fff000" opacity="1"/>
<path d="M261.0 392.3L268.0 393.7L266.6 399.4L262.4 398.0Z" fill="#c8e030" opacity="1"/>
</g></g>
<path d="M213.7 276.0C214.3 275.4 217.0 274.9 217.9 275.3C218.8 275.7 220.2 278.9 221.4 279.5C222.7 280.2 226.9 280.6 228.5 281.0C230.1 281.3 234.0 282.7 235.6 282.4C237.1 282.0 240.6 278.3 241.9 278.1C243.2 278.0 245.5 280.2 246.8 281.0C248.2 281.7 252.6 283.6 253.2 284.5C253.8 285.4 251.1 288.0 251.8 288.7C252.4 289.5 258.8 290.3 258.8 290.8C258.9 291.3 254.2 292.6 252.5 292.9C250.8 293.3 245.7 293.5 244.0 293.6C242.4 293.8 239.9 294.5 238.4 294.4C236.9 294.2 232.6 292.7 231.3 292.2C230.0 291.7 227.8 289.8 227.1 290.1C226.3 290.5 226.1 294.4 225.0 295.1C223.8 295.7 218.9 296.3 217.2 295.8C215.5 295.3 210.5 292.0 210.2 290.8C209.8 289.7 214.1 287.0 214.4 285.9C214.7 284.7 213.1 282.1 213.0 281.0C212.9 279.8 213.1 276.7 213.7 276.0Z" fill="none" stroke="#ff40ff" stroke-width="1.6" stroke-linejoin="round"/>
<path d="M211.6 366.9C213.7 365.8 217.4 364.8 221.4 364.1C225.4 363.4 230.4 363.2 235.6 362.7C240.7 362.2 248.5 361.0 252.5 361.0C256.5 361.0 257.5 361.5 259.5 362.7C261.5 363.9 264.0 366.5 264.5 368.3C264.9 370.2 263.9 372.7 262.4 374.0C260.8 375.3 258.1 375.6 255.3 376.1C252.5 376.6 247.5 375.8 245.4 376.8C243.3 377.9 243.8 380.1 242.6 382.5C241.4 384.8 240.3 388.6 238.4 390.9C236.5 393.3 233.4 394.9 231.3 396.6C229.2 398.2 226.9 399.5 225.7 400.8C224.5 402.1 225.0 403.9 224.3 404.3C223.6 404.8 222.1 404.9 221.4 403.6C220.7 402.3 220.4 399.2 220.0 396.6C219.7 394.0 219.8 390.3 219.3 388.1C218.9 385.9 218.5 384.5 217.2 383.2C215.9 381.9 213.1 381.5 211.6 380.3C210.0 379.2 208.5 377.6 208.0 376.1C207.6 374.6 208.2 372.7 208.7 371.2C209.3 369.6 209.4 368.1 211.6 366.9Z" fill="none" stroke="#ff40ff" stroke-width="1.7" stroke-linejoin="round"/>
</g>
<text id="t1" x="28.00" y="46.4" font-size="46.4" fill="#fff" font-weight="normal" font-style="normal" textLength="29.00" lengthAdjust="spacingAndGlyphs"  stroke="#fff" stroke-width="1.0" stroke-linejoin="round">A</text>
<text id="t2" x="84.00" y="44.2" font-size="29.9" fill="#fff" font-weight="normal" font-style="italic" textLength="370.21" lengthAdjust="spacingAndGlyphs"  stroke="#fff" stroke-width="0.8" stroke-linejoin="round">Patient 7, Left hemisphere</text>
<text id="t3" x="390.19" y="102.0" font-size="25.3" fill="#ffff00" font-weight="normal" font-style="normal" textLength="340.31" lengthAdjust="spacingAndGlyphs"  stroke="#ffff00" stroke-width="0.7" stroke-linejoin="round">Sevoflurane anesthetic stage</text>
<rect x="390" y="105.8" width="340" height="2" fill="#ffff00"/>
<text id="t4" x="195.39" y="135.3" font-size="20.7" fill="#ffff00" font-weight="bold" font-style="italic" textLength="80.03" lengthAdjust="spacingAndGlyphs" >Baseline</text>
<text id="t5" x="177.08" y="162.3" font-size="20.7" fill="#ffff00" font-weight="bold" font-style="italic" textLength="116.43" lengthAdjust="spacingAndGlyphs" >wakefulness</text>
<text id="t6" x="361.15" y="149.0" font-size="20.7" fill="#ffff00" font-weight="bold" font-style="normal" textLength="79.65" lengthAdjust="spacingAndGlyphs" >First 1/3</text>
<text id="t7" x="510.98" y="148.8" font-size="20.7" fill="#ffff00" font-weight="bold" font-style="normal" textLength="104.33" lengthAdjust="spacingAndGlyphs" >Middle 1/3</text>
<text id="t8" x="686.26" y="148.5" font-size="20.7" fill="#ffff00" font-weight="bold" font-style="normal" textLength="75.86" lengthAdjust="spacingAndGlyphs" >Last 1/3</text>
<text id="t9" x="844.89" y="135.1" font-size="20.7" fill="#ffff00" font-weight="bold" font-style="normal" textLength="81.04" lengthAdjust="spacingAndGlyphs" >2.0 MAC</text>
<text id="t10" x="826.08" y="161.8" font-size="20.7" fill="#ffff00" font-weight="bold" font-style="normal" textLength="123.13" lengthAdjust="spacingAndGlyphs" >maintenance</text>
<rect x="86.2" y="230.8" width="13.8" height="158" fill="#fff"/>
<rect x="87.8" y="232.4" width="10.6" height="154.6" fill="url(#cbar)"/>
<rect x="87.8" y="387" width="10.6" height="1.8" fill="#ccc"/>
<text id="t11" x="74.87" y="220.2" font-size="25.3" fill="#fff" font-weight="normal" font-style="normal" textLength="35.75" lengthAdjust="spacingAndGlyphs"  stroke="#fff" stroke-width="0.7" stroke-linejoin="round">0.3</text>
<text id="t12" x="85.26" y="416.7" font-size="25.3" fill="#fff" font-weight="normal" font-style="normal" textLength="15.36" lengthAdjust="spacingAndGlyphs"  stroke="#fff" stroke-width="0.7" stroke-linejoin="round">0</text>
<text id="t13" transform="translate(64.4,358.24) rotate(-90)" x="0" y="0" font-size="25.3" fill="#fff" font-weight="normal" textLength="100.36" lengthAdjust="spacingAndGlyphs"  stroke="#fff" stroke-width="0.7" stroke-linejoin="round">MI value</text>
<text id="t14" transform="translate(148.1,293.82) rotate(-90)" x="0" y="0" font-size="20.7" fill="#fff" font-weight="bold" textLength="115.22" lengthAdjust="spacingAndGlyphs" >Medial view</text>
<text id="t15" transform="translate(146.8,453.10) rotate(-90)" x="0" y="0" font-size="20.7" fill="#fff" font-weight="bold" textLength="128.81" lengthAdjust="spacingAndGlyphs" >Superior view</text>
<text id="t16" x="288.46" y="335.8" font-size="29.9" fill="#ff40ff" font-weight="normal" font-style="normal" textLength="245.67" lengthAdjust="spacingAndGlyphs"  stroke="#ff40ff" stroke-width="0.8" stroke-linejoin="round">Resection margin</text>
<path d="M255.8 291.5L285.1 309.3M285.1 342.6L267.2 367.2" stroke="#ff40ff" stroke-width="2" fill="none"/>
<text id="t17" x="959.90" y="217.3" font-size="25.3" fill="#fff" font-weight="normal" font-style="normal" textLength="61.14" lengthAdjust="spacingAndGlyphs"  stroke="#fff" stroke-width="0.7" stroke-linejoin="round">Vent.</text>
<text id="t18" x="1001.22" y="251.4" font-size="25.3" fill="#fff" font-weight="normal" font-style="normal" textLength="48.66" lengthAdjust="spacingAndGlyphs"  stroke="#fff" stroke-width="0.7" stroke-linejoin="round">Ant.</text>
<text id="t19" x="955.47" y="359.6" font-size="25.3" fill="#fff" font-weight="normal" font-style="normal" textLength="63.77" lengthAdjust="spacingAndGlyphs"  stroke="#fff" stroke-width="0.7" stroke-linejoin="round">Med.</text>
<text id="t20" x="1001.22" y="412.8" font-size="25.3" fill="#fff" font-weight="normal" font-style="normal" textLength="48.66" lengthAdjust="spacingAndGlyphs"  stroke="#fff" stroke-width="0.7" stroke-linejoin="round">Ant.</text>
<path d="M970.6 230V284.8H1026" stroke="#fff" stroke-width="3.4" fill="none"/>
<path d="M968.4 372V427H1023.5" stroke="#fff" stroke-width="3.4" fill="none"/>
<text id="t21" x="28.64" y="498.8" font-size="46.4" fill="#fff" font-weight="normal" font-style="normal" textLength="26.91" lengthAdjust="spacingAndGlyphs"  stroke="#fff" stroke-width="1.0" stroke-linejoin="round">B</text>
<path d="M165.3 482.8V686.6M164.1 685.4H301.3" stroke="#fff" stroke-width="2.5" fill="none"/>
<path d="M156.7 484.0H165.3" stroke="#fff" stroke-width="2.4"/>
<path d="M156.7 530.6H165.3" stroke="#fff" stroke-width="2.4"/>
<path d="M156.7 577.2H165.3" stroke="#fff" stroke-width="2.4"/>
<path d="M156.7 623.8H165.3" stroke="#fff" stroke-width="2.4"/>
<path d="M156.7 670.4H165.3" stroke="#fff" stroke-width="2.4"/>
<path d="M203.6 685.4V694.6" stroke="#fff" stroke-width="2.4"/>
<path d="M261.3 685.4V694.6" stroke="#fff" stroke-width="2.4"/>
<path d="M170.9 670.4H300.3" stroke="#c0c0c0" stroke-width="1.7" stroke-dasharray="1.4 3.8"/>
<text id="t22" transform="translate(209.7,925.32) rotate(-90)" x="0" y="0" font-size="24.6" fill="#fff" font-weight="normal" textLength="208.42" lengthAdjust="spacingAndGlyphs"  stroke="#fff" stroke-width="0.9" stroke-linejoin="round">Nonepileptogenic</text>
<text id="t23" transform="translate(269.1,872.72) rotate(-90)" x="0" y="0" font-size="24.6" fill="#fff" font-weight="normal" textLength="159.42" lengthAdjust="spacingAndGlyphs"  stroke="#fff" stroke-width="0.9" stroke-linejoin="round">Epileptogenic</text>
<path d="M328.7 482.8V686.6M327.4 685.4H464.7" stroke="#fff" stroke-width="2.5" fill="none"/>
<path d="M320.1 484.0H328.7" stroke="#fff" stroke-width="2.4"/>
<path d="M320.1 530.6H328.7" stroke="#fff" stroke-width="2.4"/>
<path d="M320.1 577.2H328.7" stroke="#fff" stroke-width="2.4"/>
<path d="M320.1 623.8H328.7" stroke="#fff" stroke-width="2.4"/>
<path d="M320.1 670.4H328.7" stroke="#fff" stroke-width="2.4"/>
<path d="M367.0 685.4V694.6" stroke="#fff" stroke-width="2.4"/>
<path d="M424.7 685.4V694.6" stroke="#fff" stroke-width="2.4"/>
<path d="M334.3 670.4H463.7" stroke="#c0c0c0" stroke-width="1.7" stroke-dasharray="1.4 3.8"/>
<text id="t24" transform="translate(373.2,925.82) rotate(-90)" x="0" y="0" font-size="24.6" fill="#fff" font-weight="normal" textLength="208.42" lengthAdjust="spacingAndGlyphs"  stroke="#fff" stroke-width="0.9" stroke-linejoin="round">Nonepileptogenic</text>
<text id="t25" transform="translate(432.5,872.72) rotate(-90)" x="0" y="0" font-size="24.6" fill="#fff" font-weight="normal" textLength="159.42" lengthAdjust="spacingAndGlyphs"  stroke="#fff" stroke-width="0.9" stroke-linejoin="round">Epileptogenic</text>
<path d="M493.6 482.8V686.6M492.4 685.4H629.6" stroke="#fff" stroke-width="2.5" fill="none"/>
<path d="M485.0 484.0H493.6" stroke="#fff" stroke-width="2.4"/>
<path d="M485.0 530.6H493.6" stroke="#fff" stroke-width="2.4"/>
<path d="M485.0 577.2H493.6" stroke="#fff" stroke-width="2.4"/>
<path d="M485.0 623.8H493.6" stroke="#fff" stroke-width="2.4"/>
<path d="M485.0 670.4H493.6" stroke="#fff" stroke-width="2.4"/>
<path d="M531.9 685.4V694.6" stroke="#fff" stroke-width="2.4"/>
<path d="M589.6 685.4V694.6" stroke="#fff" stroke-width="2.4"/>
<path d="M499.2 670.4H628.6" stroke="#c0c0c0" stroke-width="1.7" stroke-dasharray="1.4 3.8"/>
<text id="t26" transform="translate(536.7,925.82) rotate(-90)" x="0" y="0" font-size="24.6" fill="#fff" font-weight="normal" textLength="208.42" lengthAdjust="spacingAndGlyphs"  stroke="#fff" stroke-width="0.9" stroke-linejoin="round">Nonepileptogenic</text>
<text id="t27" transform="translate(595.9,873.21) rotate(-90)" x="0" y="0" font-size="24.6" fill="#fff" font-weight="normal" textLength="159.42" lengthAdjust="spacingAndGlyphs"  stroke="#fff" stroke-width="0.9" stroke-linejoin="round">Epileptogenic</text>
<path d="M656.6 482.8V686.6M655.4 685.4H792.6" stroke="#fff" stroke-width="2.5" fill="none"/>
<path d="M648.0 484.0H656.6" stroke="#fff" stroke-width="2.4"/>
<path d="M648.0 530.6H656.6" stroke="#fff" stroke-width="2.4"/>
<path d="M648.0 577.2H656.6" stroke="#fff" stroke-width="2.4"/>
<path d="M648.0 623.8H656.6" stroke="#fff" stroke-width="2.4"/>
<path d="M648.0 670.4H656.6" stroke="#fff" stroke-width="2.4"/>
<path d="M694.9 685.4V694.6" stroke="#fff" stroke-width="2.4"/>
<path d="M752.6 685.4V694.6" stroke="#fff" stroke-width="2.4"/>
<path d="M662.2 670.4H791.6" stroke="#c0c0c0" stroke-width="1.7" stroke-dasharray="1.4 3.8"/>
<text id="t28" transform="translate(700.2,925.82) rotate(-90)" x="0" y="0" font-size="24.6" fill="#fff" font-weight="normal" textLength="208.42" lengthAdjust="spacingAndGlyphs"  stroke="#fff" stroke-width="0.9" stroke-linejoin="round">Nonepileptogenic</text>
<text id="t29" transform="translate(759.3,873.21) rotate(-90)" x="0" y="0" font-size="24.6" fill="#fff" font-weight="normal" textLength="159.42" lengthAdjust="spacingAndGlyphs"  stroke="#fff" stroke-width="0.9" stroke-linejoin="round">Epileptogenic</text>
<path d="M820.0 482.8V686.6M818.8 685.4H956.0" stroke="#fff" stroke-width="2.5" fill="none"/>
<path d="M811.4 484.0H820.0" stroke="#fff" stroke-width="2.4"/>
<path d="M811.4 530.6H820.0" stroke="#fff" stroke-width="2.4"/>
<path d="M811.4 577.2H820.0" stroke="#fff" stroke-width="2.4"/>
<path d="M811.4 623.8H820.0" stroke="#fff" stroke-width="2.4"/>
<path d="M811.4 670.4H820.0" stroke="#fff" stroke-width="2.4"/>
<path d="M858.3 685.4V694.6" stroke="#fff" stroke-width="2.4"/>
<path d="M916.0 685.4V694.6" stroke="#fff" stroke-width="2.4"/>
<path d="M825.6 670.4H955.0" stroke="#c0c0c0" stroke-width="1.7" stroke-dasharray="1.4 3.8"/>
<text id="t30" transform="translate(863.7,925.82) rotate(-90)" x="0" y="0" font-size="24.6" fill="#fff" font-weight="normal" textLength="208.42" lengthAdjust="spacingAndGlyphs"  stroke="#fff" stroke-width="0.9" stroke-linejoin="round">Nonepileptogenic</text>
<text id="t31" transform="translate(922.7,873.21) rotate(-90)" x="0" y="0" font-size="24.6" fill="#fff" font-weight="normal" textLength="159.42" lengthAdjust="spacingAndGlyphs"  stroke="#fff" stroke-width="0.9" stroke-linejoin="round">Epileptogenic</text>
<text id="t32" x="122.27" y="492.2" font-size="20.4" fill="#fff" font-weight="normal" font-style="normal" textLength="32.21" lengthAdjust="spacingAndGlyphs"  stroke="#fff" stroke-width="1.0" stroke-linejoin="round">1.2</text>
<text id="t33" x="123.31" y="538.8" font-size="20.4" fill="#fff" font-weight="normal" font-style="normal" textLength="31.17" lengthAdjust="spacingAndGlyphs"  stroke="#fff" stroke-width="1.0" stroke-linejoin="round">0.9</text>
<text id="t34" x="123.31" y="585.4" font-size="20.4" fill="#fff" font-weight="normal" font-style="normal" textLength="31.17" lengthAdjust="spacingAndGlyphs"  stroke="#fff" stroke-width="1.0" stroke-linejoin="round">0.6</text>
<text id="t35" x="123.31" y="632.0" font-size="20.4" fill="#fff" font-weight="normal" font-style="normal" textLength="31.17" lengthAdjust="spacingAndGlyphs"  stroke="#fff" stroke-width="1.0" stroke-linejoin="round">0.3</text>
<text id="t36" x="123.32" y="678.6" font-size="20.4" fill="#fff" font-weight="normal" font-style="normal" textLength="30.13" lengthAdjust="spacingAndGlyphs"  stroke="#fff" stroke-width="1.0" stroke-linejoin="round">0.0</text>
<text id="t37" transform="translate(91.1,630.25) rotate(-90)" x="0" y="0" font-size="25.3" fill="#fff" font-weight="normal" textLength="100.67" lengthAdjust="spacingAndGlyphs"  stroke="#fff" stroke-width="0.7" stroke-linejoin="round">MI value</text>
<text id="t38" transform="translate(90.2,893.03) rotate(-90)" x="0" y="0" font-size="25.3" fill="#fff" font-weight="normal" textLength="166.35" lengthAdjust="spacingAndGlyphs" xml:space="preserve" stroke="#fff" stroke-width="0.7" stroke-linejoin="round">Electrode  site</text>
<g fill="#fff">
<circle cx="186.5" cy="669.5" r="3.5"/>
<circle cx="191.4" cy="669.5" r="3.5"/>
<circle cx="196.3" cy="669.9" r="3.5"/>
<circle cx="201.2" cy="669.5" r="3.5"/>
<circle cx="206.1" cy="669.5" r="3.5"/>
<circle cx="211.0" cy="669.5" r="3.5"/>
<circle cx="215.9" cy="669.2" r="3.5"/>
<circle cx="220.1" cy="667.1" r="3.5"/>
<circle cx="189.0" cy="666.5" r="3.5"/>
<circle cx="194.5" cy="666.5" r="3.5"/>
<circle cx="200.6" cy="665.9" r="3.5"/>
<circle cx="206.7" cy="666.2" r="3.5"/>
<circle cx="212.2" cy="665.9" r="3.5"/>
<circle cx="196.3" cy="662.2" r="3.5"/>
<circle cx="201.8" cy="662.2" r="3.5"/>
<circle cx="207.3" cy="662.2" r="3.5"/>
<circle cx="212.2" cy="662.6" r="3.5"/>
<circle cx="200.0" cy="656.7" r="3.5"/>
<circle cx="203.6" cy="657.3" r="3.5"/>
<circle cx="207.3" cy="656.7" r="3.5"/>
<circle cx="202.4" cy="655.5" r="3.5"/>
<circle cx="250.7" cy="669.5" r="3.5"/>
<circle cx="255.6" cy="669.5" r="3.5"/>
<circle cx="261.1" cy="669.5" r="3.5"/>
<circle cx="266.6" cy="669.5" r="3.5"/>
<circle cx="272.1" cy="669.5" r="3.5"/>
<circle cx="277.6" cy="668.9" r="3.5"/>
<circle cx="244.6" cy="667.1" r="3.5"/>
<circle cx="248.3" cy="667.1" r="3.5"/>
<circle cx="276.4" cy="666.5" r="3.5"/>
<circle cx="278.8" cy="667.1" r="3.5"/>
<circle cx="247.0" cy="662.8" r="3.5"/>
<circle cx="253.2" cy="662.8" r="3.5"/>
<circle cx="259.3" cy="662.8" r="3.5"/>
<circle cx="265.4" cy="662.8" r="3.5"/>
<circle cx="271.5" cy="662.8" r="3.5"/>
<circle cx="276.4" cy="663.4" r="3.5"/>
<circle cx="251.9" cy="657.9" r="3.5"/>
<circle cx="256.8" cy="657.9" r="3.5"/>
<circle cx="261.7" cy="657.3" r="3.5"/>
<circle cx="266.6" cy="657.9" r="3.5"/>
<circle cx="261.1" cy="643.8" r="3.5"/>
<circle cx="261.1" cy="647.5" r="3.5"/>
<circle cx="350.9" cy="668.5" r="3.5"/>
<circle cx="355.8" cy="668.7" r="3.5"/>
<circle cx="360.7" cy="669.1" r="3.5"/>
<circle cx="365.6" cy="668.7" r="3.5"/>
<circle cx="370.5" cy="668.7" r="3.5"/>
<circle cx="375.4" cy="668.7" r="3.5"/>
<circle cx="380.2" cy="668.5" r="3.5"/>
<circle cx="383.9" cy="667.9" r="3.5"/>
<circle cx="353.3" cy="665.4" r="3.5"/>
<circle cx="358.2" cy="666.0" r="3.5"/>
<circle cx="381.5" cy="666.0" r="3.5"/>
<circle cx="361.3" cy="654.4" r="3.5"/>
<circle cx="366.2" cy="650.1" r="3.5"/>
<circle cx="371.1" cy="651.4" r="3.5"/>
<circle cx="372.9" cy="655.0" r="3.5"/>
<circle cx="363.7" cy="657.5" r="3.5"/>
<circle cx="368.6" cy="659.9" r="3.5"/>
<circle cx="367.4" cy="654.4" r="3.5"/>
<circle cx="530.2" cy="635.9" r="3.5"/>
<circle cx="524.0" cy="638.5" r="3.5"/>
<circle cx="539.1" cy="642.2" r="3.5"/>
<circle cx="523.3" cy="645.3" r="3.5"/>
<circle cx="531.2" cy="642.4" r="3.5"/>
<circle cx="528.6" cy="647.7" r="3.5"/>
<circle cx="534.5" cy="646.4" r="3.5"/>
<circle cx="539.1" cy="649.0" r="3.5"/>
<circle cx="526.6" cy="653.2" r="3.5"/>
<circle cx="533.2" cy="652.3" r="3.5"/>
<circle cx="536.5" cy="654.9" r="3.5"/>
<circle cx="515.4" cy="656.9" r="3.5"/>
<circle cx="527.0" cy="659.6" r="3.5"/>
<circle cx="514.8" cy="667.5" r="3.5"/>
<circle cx="520.0" cy="667.5" r="3.5"/>
<circle cx="525.3" cy="667.5" r="3.5"/>
<circle cx="530.6" cy="667.7" r="3.5"/>
<circle cx="535.8" cy="667.7" r="3.5"/>
<circle cx="541.1" cy="667.7" r="3.5"/>
<circle cx="545.7" cy="667.5" r="3.5"/>
<circle cx="549.0" cy="667.5" r="3.5"/>
<circle cx="518.0" cy="664.8" r="3.5"/>
<circle cx="523.3" cy="664.8" r="3.5"/>
<circle cx="526.6" cy="669.4" r="3.5"/>
<circle cx="533.2" cy="669.4" r="3.5"/>
<circle cx="538.5" cy="669.4" r="3.5"/>
<circle cx="691.3" cy="616.1" r="3.5"/>
<circle cx="698.2" cy="618.4" r="3.5"/>
<circle cx="694.9" cy="621.9" r="3.5"/>
<circle cx="697.9" cy="628.5" r="3.5"/>
<circle cx="694.5" cy="630.9" r="3.5"/>
<circle cx="698.2" cy="635.1" r="3.5"/>
<circle cx="694.5" cy="640.4" r="3.5"/>
<circle cx="698.2" cy="642.7" r="3.5"/>
<circle cx="701.5" cy="645.4" r="3.5"/>
<circle cx="687.9" cy="645.4" r="3.5"/>
<circle cx="691.6" cy="648.7" r="3.5"/>
<circle cx="698.2" cy="651.9" r="3.5"/>
<circle cx="691.6" cy="654.3" r="3.5"/>
<circle cx="694.9" cy="656.6" r="3.5"/>
<circle cx="710.7" cy="659.6" r="3.5"/>
<circle cx="678.4" cy="661.2" r="3.5"/>
<circle cx="683.0" cy="663.8" r="3.5"/>
<circle cx="688.3" cy="664.5" r="3.5"/>
<circle cx="694.5" cy="665.1" r="3.5"/>
<circle cx="700.8" cy="666.4" r="3.5"/>
<circle cx="706.1" cy="666.4" r="3.5"/>
<circle cx="710.7" cy="666.4" r="3.5"/>
<circle cx="678.4" cy="668.8" r="3.5"/>
<circle cx="691.3" cy="669.7" r="3.5"/>
<circle cx="697.9" cy="669.1" r="3.5"/>
<circle cx="704.1" cy="669.7" r="3.5"/>
<circle cx="858.1" cy="561.7" r="3.5"/>
<circle cx="858.1" cy="571.9" r="3.5"/>
<circle cx="860.5" cy="595.8" r="3.5"/>
<circle cx="855.7" cy="599.4" r="3.5"/>
<circle cx="853.3" cy="609.0" r="3.5"/>
<circle cx="858.4" cy="609.4" r="3.5"/>
<circle cx="863.2" cy="609.8" r="3.5"/>
<circle cx="860.5" cy="626.8" r="3.5"/>
<circle cx="865.2" cy="628.9" r="3.5"/>
<circle cx="851.2" cy="629.7" r="3.5"/>
<circle cx="856.0" cy="632.4" r="3.5"/>
<circle cx="860.5" cy="633.3" r="3.5"/>
<circle cx="851.2" cy="638.4" r="3.5"/>
<circle cx="858.1" cy="644.8" r="3.5"/>
<circle cx="860.5" cy="653.0" r="3.5"/>
<circle cx="869.9" cy="653.5" r="3.5"/>
<circle cx="855.7" cy="657.2" r="3.5"/>
<circle cx="846.5" cy="659.9" r="3.5"/>
<circle cx="841.7" cy="662.3" r="3.5"/>
<circle cx="851.2" cy="663.1" r="3.5"/>
<circle cx="860.5" cy="663.1" r="3.5"/>
<circle cx="865.2" cy="661.5" r="3.5"/>
<circle cx="869.9" cy="659.9" r="3.5"/>
<circle cx="874.6" cy="661.5" r="3.5"/>
<circle cx="846.5" cy="666.7" r="3.5"/>
<circle cx="856.0" cy="666.2" r="3.5"/>
<circle cx="869.9" cy="666.2" r="3.5"/>
<circle cx="865.2" cy="668.9" r="3.5"/>
<rect x="421.8" y="614.4" width="6.6" height="6.6"/>
<rect x="421.8" y="621.8" width="6.6" height="6.6"/>
<rect x="421.8" y="628.5" width="6.6" height="6.6"/>
<rect x="421.8" y="637.1" width="6.6" height="6.6"/>
<rect x="417.3" y="645.0" width="6.6" height="6.6"/>
<rect x="421.8" y="645.0" width="6.6" height="6.6"/>
<rect x="426.5" y="645.0" width="6.6" height="6.6"/>
<rect x="414.9" y="649.3" width="6.6" height="6.6"/>
<rect x="419.8" y="649.3" width="6.6" height="6.6"/>
<rect x="424.6" y="649.3" width="6.6" height="6.6"/>
<rect x="428.9" y="649.3" width="6.6" height="6.6"/>
<rect x="419.8" y="655.4" width="6.6" height="6.6"/>
<rect x="424.0" y="655.4" width="6.6" height="6.6"/>
<rect x="407.5" y="660.3" width="6.6" height="6.6"/>
<rect x="412.4" y="660.3" width="6.6" height="6.6"/>
<rect x="417.3" y="660.3" width="6.6" height="6.6"/>
<rect x="422.2" y="660.3" width="6.6" height="6.6"/>
<rect x="427.1" y="660.3" width="6.6" height="6.6"/>
<rect x="405.1" y="665.8" width="6.6" height="6.6"/>
<rect x="410.0" y="665.8" width="6.6" height="6.6"/>
<rect x="414.9" y="665.8" width="6.6" height="6.6"/>
<rect x="419.8" y="665.8" width="6.6" height="6.6"/>
<rect x="424.6" y="665.8" width="6.6" height="6.6"/>
<rect x="429.5" y="665.8" width="6.6" height="6.6"/>
<rect x="434.4" y="665.8" width="6.6" height="6.6"/>
<rect x="438.7" y="665.2" width="6.6" height="6.6"/>
<rect x="586.1" y="587.1" width="6.6" height="6.6"/>
<rect x="590.5" y="598.0" width="6.6" height="6.6"/>
<rect x="585.5" y="601.2" width="6.6" height="6.6"/>
<rect x="581.9" y="604.2" width="6.6" height="6.6"/>
<rect x="586.5" y="608.6" width="6.6" height="6.6"/>
<rect x="578.0" y="614.1" width="6.6" height="6.6"/>
<rect x="594.4" y="615.2" width="6.6" height="6.6"/>
<rect x="582.6" y="618.1" width="6.6" height="6.6"/>
<rect x="586.5" y="620.7" width="6.6" height="6.6"/>
<rect x="582.6" y="627.5" width="6.6" height="6.6"/>
<rect x="586.8" y="626.0" width="6.6" height="6.6"/>
<rect x="594.4" y="632.6" width="6.6" height="6.6"/>
<rect x="589.8" y="635.2" width="6.6" height="6.6"/>
<rect x="578.0" y="638.9" width="6.6" height="6.6"/>
<rect x="583.2" y="637.8" width="6.6" height="6.6"/>
<rect x="591.1" y="640.5" width="6.6" height="6.6"/>
<rect x="594.4" y="638.5" width="6.6" height="6.6"/>
<rect x="581.9" y="647.0" width="6.6" height="6.6"/>
<rect x="594.4" y="651.0" width="6.6" height="6.6"/>
<rect x="581.9" y="653.6" width="6.6" height="6.6"/>
<rect x="589.8" y="654.3" width="6.6" height="6.6"/>
<rect x="599.0" y="654.3" width="6.6" height="6.6"/>
<rect x="570.1" y="657.6" width="6.6" height="6.6"/>
<rect x="581.9" y="658.9" width="6.6" height="6.6"/>
<rect x="589.8" y="658.9" width="6.6" height="6.6"/>
<rect x="595.7" y="658.2" width="6.6" height="6.6"/>
<rect x="603.0" y="658.2" width="6.6" height="6.6"/>
<rect x="570.1" y="664.2" width="6.6" height="6.6"/>
<rect x="576.0" y="662.8" width="6.6" height="6.6"/>
<rect x="586.5" y="665.5" width="6.6" height="6.6"/>
<rect x="592.5" y="665.5" width="6.6" height="6.6"/>
<rect x="597.1" y="664.8" width="6.6" height="6.6"/>
<rect x="603.0" y="664.8" width="6.6" height="6.6"/>
<rect x="581.9" y="664.2" width="6.6" height="6.6"/>
<rect x="748.9" y="551.2" width="6.6" height="6.6"/>
<rect x="748.9" y="577.8" width="6.6" height="6.6"/>
<rect x="750.5" y="584.4" width="6.6" height="6.6"/>
<rect x="743.4" y="588.3" width="6.6" height="6.6"/>
<rect x="754.4" y="593.1" width="6.6" height="6.6"/>
<rect x="743.4" y="595.7" width="6.6" height="6.6"/>
<rect x="750.5" y="596.6" width="6.6" height="6.6"/>
<rect x="746.9" y="611.5" width="6.6" height="6.6"/>
<rect x="750.9" y="613.3" width="6.6" height="6.6"/>
<rect x="748.9" y="623.9" width="6.6" height="6.6"/>
<rect x="739.9" y="633.5" width="6.6" height="6.6"/>
<rect x="754.8" y="634.2" width="6.6" height="6.6"/>
<rect x="758.1" y="635.7" width="6.6" height="6.6"/>
<rect x="746.9" y="637.5" width="6.6" height="6.6"/>
<rect x="743.6" y="638.8" width="6.6" height="6.6"/>
<rect x="754.4" y="640.7" width="6.6" height="6.6"/>
<rect x="750.5" y="643.4" width="6.6" height="6.6"/>
<rect x="743.6" y="648.0" width="6.6" height="6.6"/>
<rect x="750.5" y="649.3" width="6.6" height="6.6"/>
<rect x="739.9" y="652.6" width="6.6" height="6.6"/>
<rect x="758.1" y="653.9" width="6.6" height="6.6"/>
<rect x="762.1" y="655.9" width="6.6" height="6.6"/>
<rect x="765.7" y="657.2" width="6.6" height="6.6"/>
<rect x="736.4" y="656.5" width="6.6" height="6.6"/>
<rect x="732.8" y="659.8" width="6.6" height="6.6"/>
<rect x="743.6" y="659.2" width="6.6" height="6.6"/>
<rect x="750.9" y="659.8" width="6.6" height="6.6"/>
<rect x="754.4" y="658.5" width="6.6" height="6.6"/>
<rect x="739.9" y="663.1" width="6.6" height="6.6"/>
<rect x="746.9" y="663.1" width="6.6" height="6.6"/>
<rect x="758.1" y="661.8" width="6.6" height="6.6"/>
<rect x="754.4" y="666.4" width="6.6" height="6.6"/>
<rect x="912.9" y="518.2" width="6.6" height="6.6"/>
<rect x="912.9" y="530.4" width="6.6" height="6.6"/>
<rect x="909.2" y="533.6" width="6.6" height="6.6"/>
<rect x="916.4" y="538.9" width="6.6" height="6.6"/>
<rect x="912.9" y="543.6" width="6.6" height="6.6"/>
<rect x="909.2" y="549.2" width="6.6" height="6.6"/>
<rect x="916.4" y="549.2" width="6.6" height="6.6"/>
<rect x="912.9" y="555.6" width="6.6" height="6.6"/>
<rect x="912.9" y="568.6" width="6.6" height="6.6"/>
<rect x="912.9" y="593.4" width="6.6" height="6.6"/>
<rect x="912.9" y="610.0" width="6.6" height="6.6"/>
<rect x="912.9" y="618.9" width="6.6" height="6.6"/>
<rect x="919.1" y="629.5" width="6.6" height="6.6"/>
<rect x="906.0" y="632.7" width="6.6" height="6.6"/>
<rect x="916.4" y="635.1" width="6.6" height="6.6"/>
<rect x="910.5" y="637.5" width="6.6" height="6.6"/>
<rect x="916.4" y="641.5" width="6.6" height="6.6"/>
<rect x="909.2" y="644.6" width="6.6" height="6.6"/>
<rect x="919.1" y="649.4" width="6.6" height="6.6"/>
<rect x="896.5" y="654.2" width="6.6" height="6.6"/>
<rect x="916.4" y="654.2" width="6.6" height="6.6"/>
<rect x="923.5" y="655.0" width="6.6" height="6.6"/>
<rect x="896.5" y="659.0" width="6.6" height="6.6"/>
<rect x="902.8" y="659.0" width="6.6" height="6.6"/>
<rect x="909.2" y="659.0" width="6.6" height="6.6"/>
<rect x="914.0" y="660.6" width="6.6" height="6.6"/>
<rect x="920.3" y="660.6" width="6.6" height="6.6"/>
<rect x="925.9" y="659.0" width="6.6" height="6.6"/>
<rect x="929.9" y="659.0" width="6.6" height="6.6"/>
<rect x="896.5" y="662.1" width="6.6" height="6.6"/>
<rect x="909.2" y="663.7" width="6.6" height="6.6"/>
<rect x="917.2" y="662.1" width="6.6" height="6.6"/>
</g>
</svg>
<div id="cap">
<div class="l1" style="top:2.9px;"><b class="f">Figure 2.</b> <b>Spatial relationship between the epileptogenic sites and modulation index (MI) during</b></div>
<div style="top:30.9px;"><b class="ib" id="ib2">sevoflurane anesthetic stages.</b> (A) The three-dimensional brain surface images present the relationship</div>
<div style="top:58.8px;">between the resection margin and MI altering as a function of the anesthetic stage in patient 7. MI at the</div>
<div style="top:86.8px;">epileptogenic sites was increased minimally during the '<i>baseline wakefulness</i>' but prominently during the</div>
<div style="top:114.7px;">'<i>last 1/3</i>' stage. During the '<i>2.0 MAC maintenance</i>' period, MI was increased not only at the epileptogenic</div>
<div style="top:142.7px;">sites but also at some of the non-epileptogenic sites. Pink lines denote the resection margin. Ant. =</div>
<div style="top:170.6px;">anterior; Med. = medial; Vent. = ventral. (B) The scatter plots denote MI values at the epileptogenic and</div>
<div style="top:198.6px;text-align-last:left;">non-epileptogenic sites.</div>
</div>
</div>
</body></html>
